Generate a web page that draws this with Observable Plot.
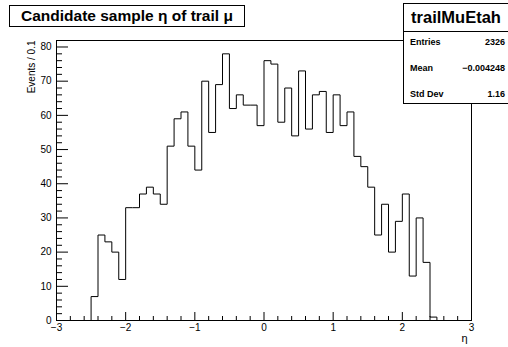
<!DOCTYPE html>
<html>
<head>
<meta charset="utf-8">
<script src="https://cdn.jsdelivr.net/npm/d3@7"></script>
<script src="https://cdn.jsdelivr.net/npm/@observablehq/plot@0.6"></script>
<style>
  html, body { margin: 0; padding: 0; background: #fff; }
  #wrap { position: relative; width: 508px; height: 347px; font-family: "Liberation Sans", Arial, Helvetica, sans-serif; }
  #title { position: absolute; left: 9px; top: 5px; width: 236px; height: 22px; border: 1px solid #000; background: #fff;
           box-sizing: border-box; font-weight: bold; font-size: 15.5px; line-height: 20px; padding-left: 11px; white-space: nowrap; }
  #stats { position: absolute; left: 403px; top: 3px; width: 106px; height: 101px; border: 1px solid #000; background: #fff;
           box-sizing: border-box; font-weight: bold; }
  #stats .head { height: 27px; border-bottom: 1px solid #000; font-size: 16.5px; line-height: 27px; text-align: center; }
  #stats .row { position: absolute; left: 6px; right: 3px; font-size: 9px; }
  #stats .row span:last-child { position: absolute; right: 0; }
</style>
</head>
<body>
<div id="wrap"></div>
<script>
// Histogram of trail-muon pseudorapidity, 0.1 wide bins starting at eta = -2.5
const binStart = -2.5;
const binWidth = 0.1;
const counts = [
  7, 25, 23, 20, 12, 33, 33, 37, 39, 37,
  34, 51, 59, 61, 51, 44, 70, 55, 69, 78,
  62, 66, 63, 63, 57, 76, 75, 58, 68, 54,
  73, 56, 66, 67, 55, 66, 57, 61, 48, 45,
  39, 25, 34, 20, 29, 37, 13, 30, 17, 1
];
const xTicks = [-3, -2, -1, 0, 1, 2, 3];
const yTicks = [0, 10, 20, 30, 40, 50, 60, 70, 80];
const statNames = ["Entries", "Mean", "Std Dev"];
const statValues = ["2326", "\u22120.004248", "1.16"];
const histName = "trailMuEtah";
const titleText = "Candidate sample \u03b7 of trail \u03bc";
const xLabel = "\u03b7";
const yLabel = "Events / 0.1";

// Step outline of the histogram: left edge of each bin with its count, closed down to zero at both ends
const edges = counts.map((c, i) => +(binStart + i * binWidth).toFixed(2));
const lastEdge = +(binStart + counts.length * binWidth).toFixed(2);
const outline = [{x: -3, y: 0}, {x: binStart, y: 0}]
  .concat(counts.map((c, i) => ({x: edges[i], y: c})))
  .concat([{x: lastEdge, y: counts[counts.length - 1]}, {x: lastEdge, y: 0}, {x: 3, y: 0}]);

const yMax = d3.max(counts) * 1.05;
const xMinor = d3.range(-30, 31, 2).map(v => v / 10).filter(v => !xTicks.includes(v));
const yMinor = d3.range(0, yMax, 2).filter(v => v % 10 !== 0);

const ml = 56, mr = 37, mt = 40, mb = 27, W = 508, H = 347;
const innerH = H - mt - mb, innerW = W - ml - mr;
// pixel tick lengths expressed in each scale's units
const yPerPx = yMax / innerH, xPerPx = 6 / innerW;

const chart = Plot.plot({
  width: W, height: H,
  marginLeft: ml, marginRight: mr, marginTop: mt, marginBottom: mb,
  style: {fontFamily: "'Liberation Sans', Arial, sans-serif", background: "#fff"},
  x: {domain: [-3, 3], axis: null},
  y: {domain: [0, yMax], axis: null},
  marks: [
    Plot.line(outline, {x: "x", y: "y", curve: "step-after", stroke: "#000", strokeWidth: 1}),
    // inward tick marks on bottom and left axes
    Plot.ruleX(xTicks, {x: d => d, y1: 0, y2: 8 * yPerPx, stroke: "#000"}),
    Plot.ruleX(xMinor, {x: d => d, y1: 0, y2: 4 * yPerPx, stroke: "#000"}),
    Plot.ruleY(yTicks, {y: d => d, x1: -3, x2: -3 + 12 * xPerPx, stroke: "#000"}),
    Plot.ruleY(yMinor, {y: d => d, x1: -3, x2: -3 + 6 * xPerPx, stroke: "#000"}),
    Plot.frame({stroke: "#000", strokeWidth: 1}),
    Plot.text(xTicks, {x: d => d, frameAnchor: "bottom", dy: 3,
      text: d => d < 0 ? "\u2212" + Math.abs(d) : String(d), fontSize: 10, fill: "#000", lineAnchor: "top"}),
    Plot.text(yTicks, {y: d => d, frameAnchor: "left", dx: -5, text: d => String(d),
      textAnchor: "end", fontSize: 10, fill: "#000"}),
    Plot.text([xLabel], {frameAnchor: "bottom-right", dx: -4, dy: 14, text: d => d,
      textAnchor: "end", lineAnchor: "top", fontSize: 11, fill: "#000"}),
    Plot.text([yLabel], {frameAnchor: "top-left", dx: -22, dy: 0, text: d => d, rotate: -90,
      textAnchor: "end", lineAnchor: "bottom", fontSize: 10, fill: "#000"})
  ]
});

const wrap = document.getElementById("wrap");
wrap.appendChild(chart);

const title = document.createElement("div");
title.id = "title";
title.textContent = titleText;
wrap.appendChild(title);

const stats = document.createElement("div");
stats.id = "stats";
const head = document.createElement("div");
head.className = "head";
head.textContent = histName;
stats.appendChild(head);
statNames.forEach((name, i) => {
  const row = document.createElement("div");
  row.className = "row";
  row.style.top = (33 + i * 26) + "px";
  const a = document.createElement("span"); a.textContent = name;
  const b = document.createElement("span"); b.textContent = statValues[i];
  row.appendChild(a); row.appendChild(b);
  stats.appendChild(row);
});
wrap.appendChild(stats);
</script>
</body>
</html>
